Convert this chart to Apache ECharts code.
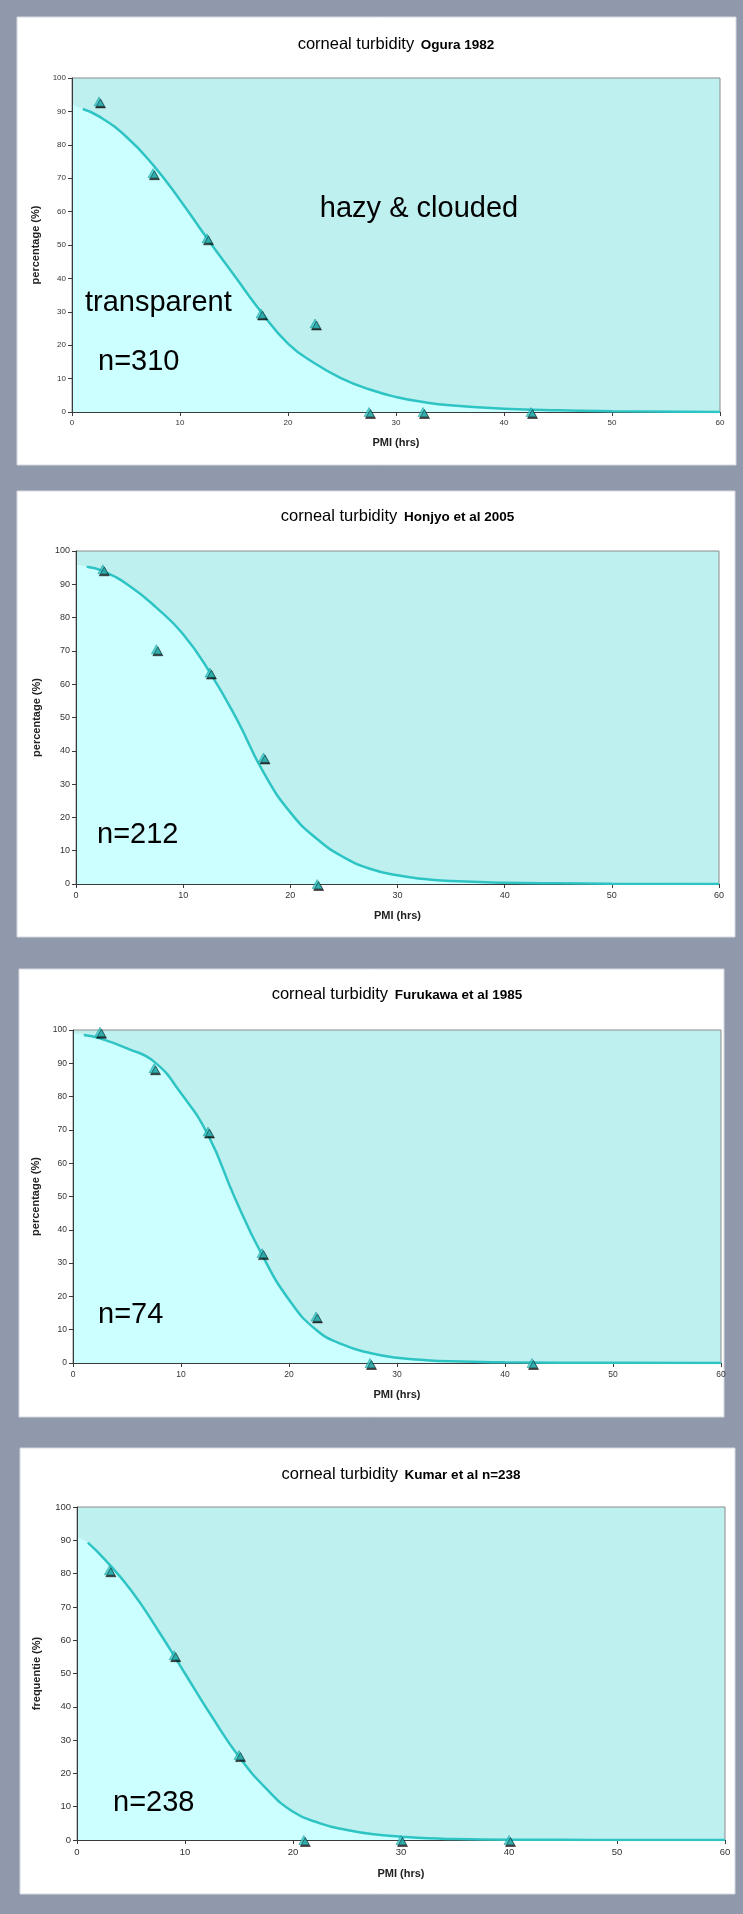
<!DOCTYPE html>
<html>
<head>
<meta charset="utf-8">
<script src="https://cdn.jsdelivr.net/npm/echarts@6/dist/echarts.min.js"></script>
<style>
  html, body { margin: 0; padding: 0; background: #9098ab; }
  #chart { width: 743px; height: 1914px; }
</style>
</head>
<body>
<div id="chart"></div>
<script>
// Fitted curve sample positions (PMI, hours)
const curveX = [0, 1, 2.5, 5, 7.5, 10, 12.5, 15, 17.5, 20, 22.5, 25, 27.5, 30, 32.5, 35, 40, 45, 50, 60];

// Ogura 1982
const oguraCurve = [92, 90.7, 88.5, 82.5, 74, 63.5, 52, 41, 30, 20.5, 14.5, 10, 6.8, 4.5, 3, 2, 1, 0.5, 0.25, 0];
const oguraPMI = [2.5, 7.5, 12.5, 17.5, 22.5, 27.5, 32.5, 42.5];
const oguraPct = [93, 71.5, 52, 29.5, 26.5, 0, 0, 0];

// Honjyo et al 2005
const honjyoCurve = [96, 95.3, 94, 89.5, 83, 75, 63.5, 49.5, 33.5, 21.5, 13.5, 8, 4.5, 2.6, 1.5, 0.9, 0.4, 0.2, 0.1, 0];
const honjyoPMI = [2.5, 7.5, 12.5, 17.5, 22.5];
const honjyoPct = [94.5, 70.5, 63.5, 38, 0];

// Furukawa et al 1985
const furukawaCurve = [99, 98.5, 97.5, 94.5, 90.5, 81, 68.5, 49.5, 32.5, 19, 10, 5.5, 3, 1.6, 0.9, 0.5, 0.2, 0.1, 0.05, 0];
const furukawaPMI = [2.5, 7.5, 12.5, 17.5, 22.5, 27.5, 42.5];
const furukawaPct = [99.5, 88.5, 69.5, 33, 14, 0, 0];

// Kumar et al
const kumarCurve = [91, 89.3, 84.5, 75, 63, 50, 37, 25, 15.5, 8.5, 5, 3, 1.7, 1, 0.5, 0.3, 0.1, 0.05, 0.02, 0];
const kumarPMI = [3, 9, 15, 21, 30, 40];
const kumarPct = [81, 55.5, 25.5, 0, 0, 0];

// Axis ticks
const xTicks = [0, 10, 20, 30, 40, 50, 60];
const yTicks = [0, 10, 20, 30, 40, 50, 60, 70, 80, 90, 100];

const panels = [
  { source: 'Ogura 1982', yName: 'percentage (%)', curve: oguraCurve, px: oguraPMI, py: oguraPct, note: 'n=310',
    card: [17, 17, 719, 448], grid: [72, 78, 648, 334], titleY: 44, yGap: 30, xGap: 25, tickFont: 8,
    noteAt: [98, 362] },
  { source: 'Honjyo et al 2005', yName: 'percentage (%)', curve: honjyoCurve, px: honjyoPMI, py: honjyoPct, note: 'n=212',
    card: [17, 491, 718, 446], grid: [76, 551, 643, 333], titleY: 516, yGap: 34, xGap: 26, tickFont: 9,
    noteAt: [97, 835] },
  { source: 'Furukawa et al 1985', yName: 'percentage (%)', curve: furukawaCurve, px: furukawaPMI, py: furukawaPct, note: 'n=74',
    card: [19, 969, 705, 448], grid: [73, 1030, 648, 333], titleY: 994, yGap: 30, xGap: 26, tickFont: 8.5,
    noteAt: [98, 1315] },
  { source: 'Kumar et al n=238', yName: 'frequentie (%)', curve: kumarCurve, px: kumarPMI, py: kumarPct, note: 'n=238',
    card: [20, 1448, 715, 446], grid: [77, 1507, 648, 333], titleY: 1474, yGap: 35, xGap: 28, tickFont: 9.5,
    noteAt: [113, 1803] }
];

const FONT = '"Liberation Sans", Arial, Helvetica, sans-serif';
const NARROW = '"Liberation Sans Narrow", "Liberation Sans", Arial, sans-serif';
const LINE = '#2fc4c4';

const grids = [], xAxes = [], yAxes = [], series = [], graphics = [];

panels.forEach((p, i) => {
  const [gl, gt, gw, gh] = p.grid;
  grids.push({
    left: gl, top: gt, width: gw, height: gh,
    show: true, backgroundColor: '#bff0f0', borderColor: '#8a8a8a', borderWidth: 1
  });
  xAxes.push({
    gridIndex: i, type: 'value', min: 0, max: 60, interval: 10, z: 2,
    name: 'PMI (hrs)', nameLocation: 'middle', nameGap: p.xGap,
    nameTextStyle: { fontFamily: FONT, fontSize: 11, fontWeight: 'bold', color: '#222' },
    axisLine: { show: true, onZero: false, lineStyle: { color: '#3a3a3a', width: 1 } },
    axisTick: { show: true, length: 4, lineStyle: { color: '#3a3a3a' } },
    axisLabel: { fontFamily: NARROW, fontSize: p.tickFont, color: '#333', margin: 7,
      formatter: v => (xTicks.includes(v) ? String(v) : '') },
    splitLine: { show: false }
  });
  yAxes.push({
    gridIndex: i, type: 'value', min: 0, max: 100, interval: 10, z: 2,
    name: p.yName, nameLocation: 'middle', nameGap: p.yGap,
    nameTextStyle: { fontFamily: FONT, fontSize: 11, fontWeight: 'bold', color: '#222' },
    axisLine: { show: true, onZero: false, lineStyle: { color: '#3a3a3a', width: 1 } },
    axisTick: { show: true, length: 4, lineStyle: { color: '#3a3a3a' } },
    axisLabel: { fontFamily: NARROW, fontSize: p.tickFont, color: '#333', margin: 6,
      formatter: v => (yTicks.includes(v) ? String(v) : '') },
    splitLine: { show: false }
  });

  const pts = curveX.map((x, k) => [x, p.curve[k]]);
  // light "transparent" region under the fitted curve
  series.push({
    type: 'line', xAxisIndex: i, yAxisIndex: i, data: pts,
    smooth: 0.5, showSymbol: false, silent: true,
    lineStyle: { width: 0 }, areaStyle: { color: '#ccffff', opacity: 1 }, z: 1
  });
  // fitted curve itself, drawn from PMI = 1
  series.push({
    type: 'line', xAxisIndex: i, yAxisIndex: i, data: pts.slice(1),
    smooth: 0.5, showSymbol: false, silent: true,
    lineStyle: { color: LINE, width: 2.5 }, z: 3
  });
  // observed percentages
  series.push({
    type: 'scatter', xAxisIndex: i, yAxisIndex: i,
    data: p.px.map((x, k) => [x, p.py[k]]),
    symbol: 'triangle', symbolSize: [10, 9], clip: false,
    itemStyle: { color: '#33c9c9', borderColor: '#188c8c', borderWidth: 0.6,
      shadowColor: 'rgba(0,0,0,0.95)', shadowBlur: 0, shadowOffsetX: 1.5, shadowOffsetY: 2 },
    z: 5
  });

  // white card
  const [cx, cy, cw, ch] = p.card;
  graphics.push({ type: 'rect', z: -10, silent: true,
    shape: { x: cx, y: cy, width: cw, height: ch },
    style: { fill: '#ffffff', stroke: '#d4d8e0', lineWidth: 1 } });
  // title
  graphics.push({ type: 'text', z: 10, x: gl + gw / 2, y: p.titleY,
    style: { text: '{a|corneal turbidity}  {b|' + p.source + '}', align: 'center', verticalAlign: 'middle',
      rich: {
        a: { fontFamily: FONT, fontSize: 16.5, color: '#111', verticalAlign: 'bottom' },
        b: { fontFamily: FONT, fontSize: 13.5, fontWeight: 'bold', color: '#111', verticalAlign: 'bottom' }
      } } });
  // sample size
  graphics.push({ type: 'text', z: 10, x: p.noteAt[0], y: p.noteAt[1],
    style: { text: p.note, fontFamily: FONT, fontSize: 29, fill: '#000', align: 'left', verticalAlign: 'middle' } });
});

// region labels on the first panel
graphics.push({ type: 'text', z: 10, x: 419, y: 209,
  style: { text: 'hazy & clouded', fontFamily: FONT, fontSize: 29, fill: '#000', align: 'center', verticalAlign: 'middle' } });
graphics.push({ type: 'text', z: 10, x: 85, y: 303,
  style: { text: 'transparent', fontFamily: FONT, fontSize: 29, fill: '#000', align: 'left', verticalAlign: 'middle' } });

const chart = echarts.init(document.getElementById('chart'), null, { renderer: 'canvas' });
chart.setOption({
  backgroundColor: '#9098ab',
  animation: false,
  grid: grids,
  xAxis: xAxes,
  yAxis: yAxes,
  series: series,
  graphic: { elements: graphics }
});
</script>
</body>
</html>
